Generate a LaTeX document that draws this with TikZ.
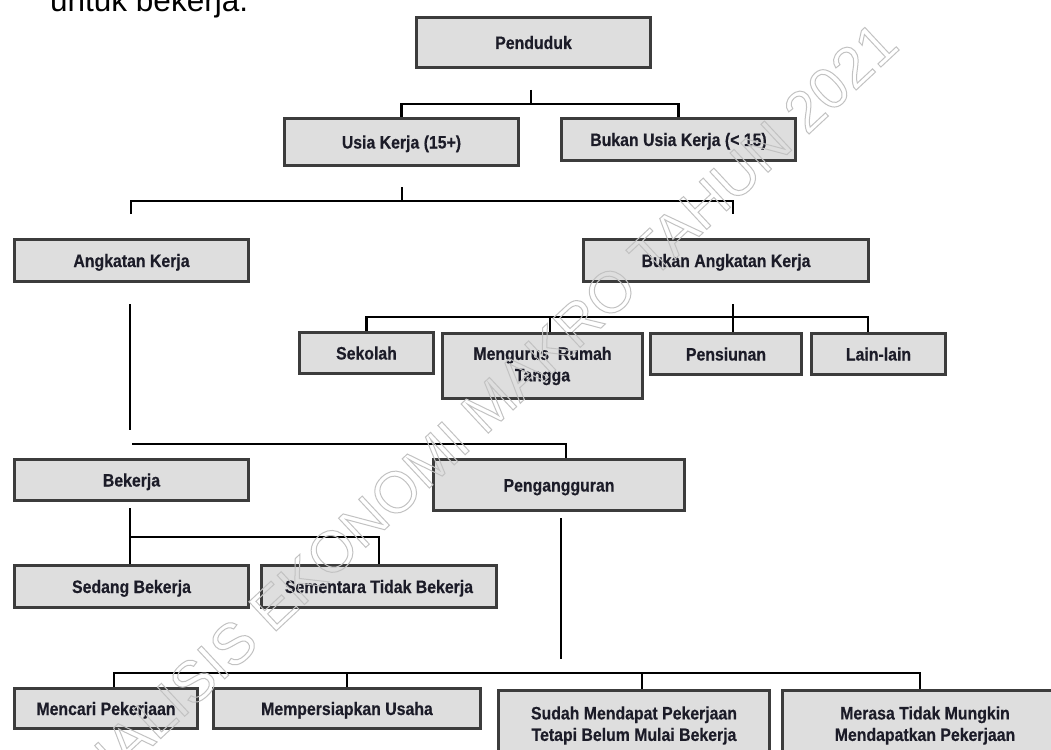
\documentclass[tikz,border=0pt]{standalone}
\usepackage{fontspec}
\setmainfont{Liberation Sans}
\newfontfamily\boxfont[FakeStretch=0.88,FakeBold=0.45]{Liberation Sans Bold}
\definecolor{boxfill}{HTML}{DEDEDE}
\definecolor{boxline}{HTML}{3C3C3C}
\definecolor{txt}{HTML}{1C1C28}
\definecolor{wmark}{HTML}{C2C2C2}
\tikzset{
  box/.style={draw=boxline, fill=boxfill, line width=3pt, inner sep=0pt,
    text=txt, font=\boxfont\fontsize{18}{21.5}\selectfont, align=center},
  oneline/.style={text height=13pt, text depth=0pt},
  link/.style={line width=2.2pt, draw=black},
}
\begin{document}
\begin{tikzpicture}[x=1pt,y=-1pt]
\useasboundingbox (0,0) rectangle (1051,749);
\clip (0,0) rectangle (1051,749);

\node[box,oneline,minimum width=234,minimum height=50] (pen) at (533.5,42.5) {Penduduk};
\node[box,oneline,minimum width=234,minimum height=47] (usia) at (401.5,142) {Usia Kerja (15+)};
\node[box,oneline,minimum width=234,minimum height=42] (busia) at (678.5,139.5) {Bukan Usia Kerja (< 15)};
\node[box,oneline,minimum width=234,minimum height=42] (ak) at (131.5,260.5) {Angkatan Kerja};
\node[box,oneline,minimum width=285,minimum height=42] (bak) at (726,260.5) {Bukan Angkatan Kerja};
\node[box,oneline,minimum width=134,minimum height=41] (sek) at (366.5,353) {Sekolah};
\node[box,minimum width=200,minimum height=65] (mrt) at (542.5,366) {Mengurus\ \ Rumah\\Tangga};
\node[box,oneline,minimum width=151,minimum height=41] (pens) at (726,354) {Pensiunan};
\node[box,oneline,minimum width=134,minimum height=41] (lain) at (878.5,354) {Lain-lain};
\node[box,oneline,minimum width=234,minimum height=41] (bek) at (131.5,480) {Bekerja};
\node[box,oneline,minimum width=251,minimum height=51] (peng) at (559,485) {Pengangguran};
\node[box,oneline,minimum width=234,minimum height=42] (sed) at (131.5,586.5) {Sedang Bekerja};
\node[box,oneline,minimum width=235,minimum height=42] (smt) at (379,586.5) {Sementara Tidak Bekerja};
\node[box,oneline,minimum width=183,minimum height=40] (mcp) at (106,708.5) {Mencari Pekerjaan};
\node[box,oneline,minimum width=267,minimum height=40] (mpu) at (347,708.5) {Mempersiapkan Usaha};
\node[box,minimum width=271,minimum height=71] (sdh) at (634,725.5) {Sudah Mendapat Pekerjaan\\Tetapi Belum Mulai Bekerja};
\node[box,minimum width=285,minimum height=71] (mrs) at (925,725.5) {Merasa Tidak Mungkin\\Mendapatkan Pekerjaan};

% Penduduk
\coordinate (p1) at (531,90);
\coordinate (p2) at (531,104);
\draw[link] (p1) -- (p2);
\draw[link] (usia.north) |- (p2) -| (busia.north);

% Usia Kerja
\coordinate (u1) at (402,187);
\coordinate (u2) at (402,201);
\coordinate (uL) at (131,214);
\coordinate (uR) at (733,214);
\draw[link] (u1) -- (u2);
\draw[link] (uL) |- (u2) -| (uR);

% Bukan Angkatan Kerja
\coordinate (b1) at (733,304);
\coordinate (bR) at (868,317);
\coordinate (bM) at (550,317);
\draw[link] (b1) -- (b1 |- pens.north);
\draw[link] (sek.north) |- (bR) -- (bR |- lain.north);
\draw[link] (bM) -- (bM |- mrt.north);

% Angkatan Kerja
\coordinate (k1) at (130,304);
\coordinate (k2) at (130,430);
\coordinate (k3) at (132,444);
\draw[link] (k1) -- (k2);
\draw[link] (k3) -| ([xshift=7pt]peng.north);

% Bekerja
\coordinate (e1) at (130,508);
\coordinate (e2) at (130,537);
\draw[link] (e1) -- (e1 |- sed.north);
\draw[link] (e2) -| (smt.north);

% Pengangguran
\coordinate (g1) at (561,518);
\coordinate (g2) at (561,659);
\coordinate (gL) at (114,673);
\coordinate (gR) at (920,673);
\coordinate (gS) at (642,673);
\draw[link] (g1) -- (g2);
\draw[link] (gL |- mcp.north) -- (gL) -- (gR) -- (gR |- mrs.north);
\draw[link] (mpu.north) -- (mpu.north |- gL);
\draw[link] (gS) -- (gS |- sdh.north);

% text above the chart (cut off by the top edge)
\node[anchor=base west, inner sep=0pt, font=\fontsize{31.5}{36}\selectfont] (top) at (50,12) {untuk bekerja.};

% watermark
\node[rotate=43, inner sep=0pt, text=wmark, font=\fontsize{58}{66}\selectfont] (wm) at (472,421)
  {\special{pdf:literal direct 1 Tr 1 w}ANALISIS EKONOMI MAKRO TAHUN 2021\special{pdf:literal direct 0 Tr}};
\end{tikzpicture}
\end{document}
